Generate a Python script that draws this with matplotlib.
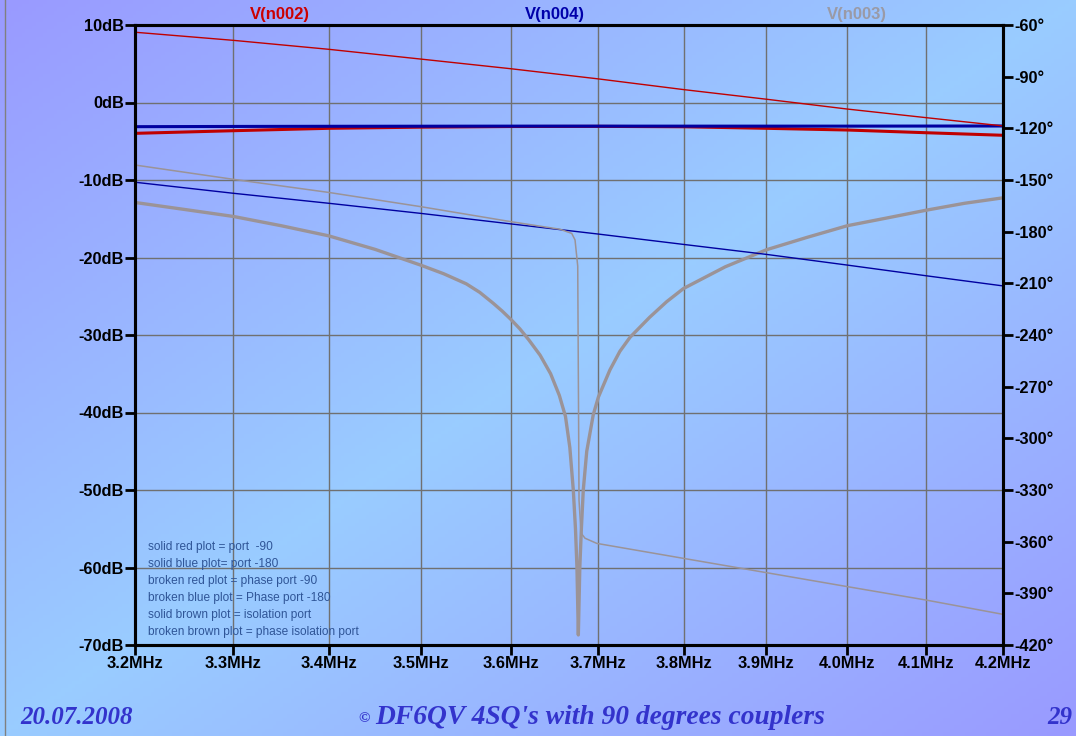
import numpy as np
import matplotlib.pyplot as plt
from matplotlib.colors import LinearSegmentedColormap
from matplotlib.ticker import FixedLocator, NullLocator

# frequency grid (MHz) for the smooth traces
freq = [3.2, 3.3, 3.4, 3.5, 3.6, 3.7, 3.8, 3.9, 4.0, 4.1, 4.2]

# solid red: port -90 magnitude (dB)
red_db = [-3.98, -3.64, -3.33, -3.18, -3.10, -3.08, -3.13, -3.33, -3.55, -3.90, -4.23]
# solid blue: port -180 magnitude (dB)
blue_db = [-3.12, -3.09, -3.07, -3.06, -3.05, -3.05, -3.05, -3.05, -3.05, -3.04, -3.03]
# broken red: phase port -90 (deg)
red_ph = [-64.2, -68.9, -74.1, -79.8, -85.4, -91.3, -97.5, -103.1, -108.8, -113.8, -118.6]
# broken blue: phase port -180 (deg)
blue_ph = [-151.3, -157.7, -163.5, -169.4, -175.5, -181.4, -187.4, -193.2, -199.4, -205.6, -211.5]

# solid brown: isolation port magnitude (dB)
iso_f = [3.2, 3.25, 3.3, 3.35, 3.4, 3.45, 3.5, 3.525, 3.55, 3.565, 3.58, 3.59, 3.6, 3.61,
         3.62, 3.633, 3.645, 3.655, 3.662, 3.667, 3.671, 3.6735, 3.6752, 3.6768,
         3.6785, 3.6803, 3.6825, 3.6865, 3.694, 3.700, 3.7134, 3.725, 3.7368, 3.76,
         3.78, 3.8, 3.85, 3.9, 3.95, 4.0, 4.05, 4.1, 4.15, 4.2]
iso_db = [-12.9, -13.8, -14.7, -15.9, -17.2, -18.95, -21.0, -22.1, -23.4, -24.5, -25.9, -26.9, -28.0, -29.2,
          -30.6, -32.6, -35.0, -37.8, -40.5, -44.5, -50.0, -55.0, -60.0, -68.7,
          -60.0, -55.0, -50.0, -45.0, -40.3, -38.0, -34.5, -32.1, -30.3, -27.7,
          -25.7, -24.0, -21.2, -19.0, -17.4, -15.9, -14.9, -13.9, -13.0, -12.3]

# broken brown: phase isolation port (deg)
iso_ph_f = [3.2, 3.3, 3.4, 3.5, 3.6, 3.6558, 3.6692, 3.673, 3.6761, 3.6776, 3.6799,
            3.6845, 3.6981, 3.8, 3.9, 4.0, 4.1, 4.2]
iso_ph = [-141.3, -149.6, -157.2, -165.5, -174.2, -178.6, -181.0, -184.8, -200.0, -336.0, -355.0,
          -358.0, -361.0, -369.7, -378.0, -386.1, -393.9, -402.2]

x_ticks = [3.2, 3.3, 3.4, 3.5, 3.6, 3.7, 3.8, 3.9, 4.0, 4.1, 4.2]
db_ticks = [10, 0, -10, -20, -30, -40, -50, -60, -70]
deg_ticks = list(range(-60, -421, -30))

notes = ["solid red plot = port  -90",
         "solid blue plot= port -180",
         "broken red plot = phase port -90",
         "broken blue plot = Phase port -180",
         "solid brown plot = isolation port",
         "broken brown plot = phase isolation port"]

RED = '#c00000'
BLUE = '#0000a0'
BROWN = '#9b9397'

plt.rcParams['font.family'] = ['Liberation Sans', 'DejaVu Sans']

W, H = 1076, 736
fig = plt.figure(figsize=(W / 100, H / 100), dpi=100)

# slide background: purple corners, light blue diagonal
bg = fig.add_axes([0, 0, 1, 1], zorder=-10)
xx, yy = np.meshgrid(np.linspace(0, 1, 300), np.linspace(0, 1, 200))
t = 1 - np.abs((xx + yy) - 1)
cmap = LinearSegmentedColormap.from_list('slide', ['#9a9aff', '#99ccff'])
bg.imshow(t, extent=[0, 1, 0, 1], aspect='auto', cmap=cmap, origin='upper', vmin=0, vmax=1)
bg.axis('off')
bg.axvline(5 / W, color='#808080', lw=1)

ax = fig.add_axes([135 / W, 1 - 645 / H, 868 / W, 620 / H])
ax.set_facecolor('none')
ax.set_xscale('log')
ax.set_xlim(3.2, 4.2)
ax.set_ylim(-70, 10)
ax2 = ax.twinx()
ax2.set_ylim(-420, -60)

ax.xaxis.set_major_locator(FixedLocator(x_ticks))
ax.xaxis.set_minor_locator(NullLocator())
ax.set_xticklabels([f"{v:.1f}MHz" for v in x_ticks])
ax.set_yticks(db_ticks)
ax.set_yticklabels([f"{v}dB" for v in db_ticks])
ax2.set_yticks(deg_ticks)
ax2.set_yticklabels([f"{v}°" for v in deg_ticks])

ax.grid(True, color='#707070', lw=1)
ax.set_axisbelow(True)

for a in (ax, ax2):
    for s in a.spines.values():
        s.set_linewidth(2.2)
        s.set_color('black')
    a.tick_params(direction='out', length=7, width=2, labelsize=11.8, pad=1)
    for lab in a.get_xticklabels() + a.get_yticklabels():
        lab.set_fontweight('bold')

ax.plot(freq, red_db, color=RED, lw=2.2)
ax.plot(freq, blue_db, color=BLUE, lw=2.2)
ax.plot(iso_f, iso_db, color=BROWN, lw=2.4)
ax2.plot(freq, red_ph, color=RED, lw=1.0)
ax2.plot(freq, blue_ph, color=BLUE, lw=1.0)
ax2.plot(iso_ph_f, iso_ph, color=BROWN, lw=1.1)

# trace names above the plot
fig.text(280 / W, 1 - 15 / H, "V(n002)", color='#cc0000', fontsize=12, fontweight='bold', ha='center', va='center')
fig.text(555 / W, 1 - 15 / H, "V(n004)", color='#0000aa', fontsize=12, fontweight='bold', ha='center', va='center')
fig.text(857 / W, 1 - 15 / H, "V(n003)", color='#9a9aa6', fontsize=12, fontweight='bold', ha='center', va='center')

for i, line in enumerate(notes):
    fig.text(148 / W, 1 - (547 + 17 * i) / H, line, color='#2f5597', fontsize=8.6, ha='left', va='center')

# footer
serif = ['Liberation Serif', 'DejaVu Serif']
foot = dict(color='#3333cc', fontweight='bold', style='italic', family=serif, va='center')
fig.text(20 / W, 1 - 717 / H, "20.07.2008", ha='left', fontsize=18, **foot)
fig.text(600 / W, 1 - 717 / H, "DF6QV 4SQ's with 90 degrees couplers", ha='center', fontsize=19.8, **foot)
fig.text(364 / W, 1 - 719 / H, "©", color='#3333cc', fontsize=11, fontweight='bold', style='italic',
         family=serif, ha='center', va='center')
fig.text(1072 / W, 1 - 717 / H, "29", ha='right', fontsize=18, **foot)

fig.savefig('out.png', dpi=100)
